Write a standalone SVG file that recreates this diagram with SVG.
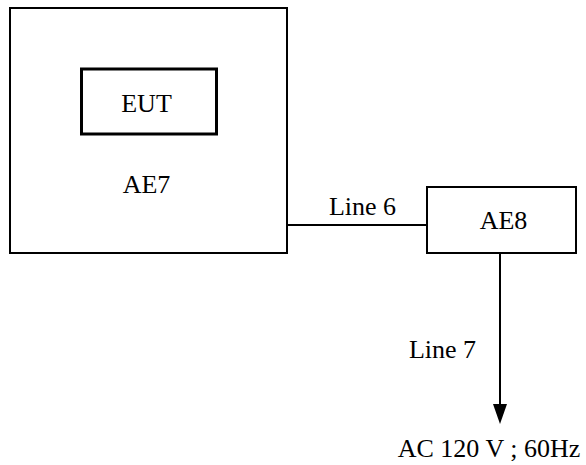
<svg xmlns="http://www.w3.org/2000/svg" width="586" height="465" viewBox="0 0 586 465">
<style>
text{font-family:"Liberation Serif",serif;font-size:26px;fill:#000}
.box{fill:#fff;stroke:#000;stroke-width:2}
.thick{fill:#fff;stroke:#000;stroke-width:3}
.ln{stroke:#000;stroke-width:2;fill:none}
</style>
<rect width="586" height="465" fill="#fff"/>
<g id="AE7">
<rect class="box" x="10" y="8" width="277" height="245"/>
<text x="146.5" y="193" text-anchor="middle" font-family="Liberation Serif">AE7</text>
</g>
<g id="EUT">
<rect class="thick" x="81.5" y="69" width="135" height="65"/>
<text x="146.5" y="112" text-anchor="middle" font-family="Liberation Serif">EUT</text>
</g>
<g id="AE8">
<rect class="box" x="427" y="187" width="149" height="66"/>
<text x="503.5" y="229" text-anchor="middle" font-family="Liberation Serif">AE8</text>
</g>
<g id="connectors">
<line class="ln" x1="287" y1="225" x2="427" y2="225"/>
<line class="ln" x1="500" y1="253" x2="500" y2="405"/>
<path d="M493,404 L507,404 L500,424 Z" fill="#000"/>
</g>
<g id="labels" font-family="Liberation Serif">
<text x="362.5" y="215" text-anchor="middle">Line 6</text>
<text x="442.5" y="358" text-anchor="middle">Line 7</text>
<text x="489" y="457" text-anchor="middle">AC 120 V ; 60Hz</text>
</g>
</svg>
